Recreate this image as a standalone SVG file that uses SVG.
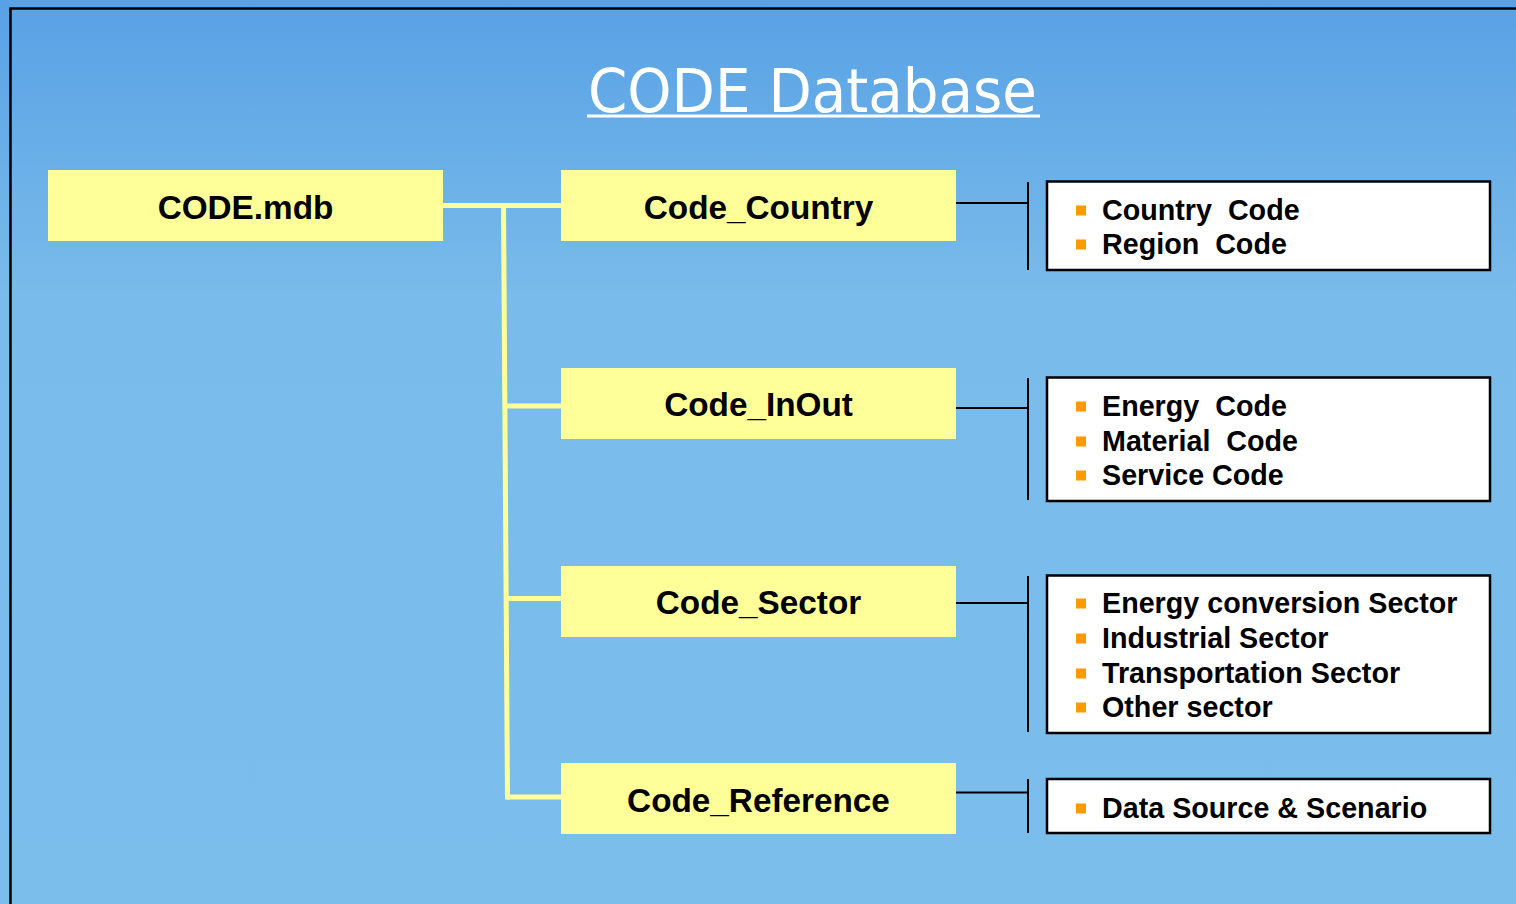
<svg xmlns="http://www.w3.org/2000/svg" width="1516" height="904" viewBox="0 0 1516 904">
<defs>
<linearGradient id="bg" gradientUnits="userSpaceOnUse" x1="0" y1="0" x2="0" y2="904">
<stop offset="0" stop-color="#58a1e5"/>
<stop offset="0.33" stop-color="#79bbea"/>
<stop offset="1" stop-color="#7bbdeb"/>
</linearGradient>
<style>
.yb{fill:#ffff99;}
.yl{stroke:#ffff99;stroke-width:5;fill:none;}
.bl{stroke:#000;stroke-width:2;fill:none;}
.wb{fill:#fff;stroke:#000;stroke-width:2.5;}
.lbl{font-family:"Liberation Sans",Arial,sans-serif;font-weight:bold;font-size:33.3px;fill:#000;text-anchor:middle;}
.it{font-family:"Liberation Sans",Arial,sans-serif;font-weight:bold;font-size:28.7px;fill:#000;}
.bu{fill:#ff9900;}
</style>
</defs>
<rect x="0" y="0" width="1516" height="904" fill="url(#bg)"/>
<rect x="10.5" y="8.5" width="1530" height="1000" fill="none" stroke="#000" stroke-width="2.5"/>
<g id="title">
<text x="588" y="112" font-family="DejaVu Sans,Verdana,sans-serif" font-size="60" fill="#fff" textLength="449" lengthAdjust="spacingAndGlyphs">CODE Database</text>
<line x1="587" y1="116" x2="1040" y2="116" stroke="#fff" stroke-width="3"/>
</g>
<g id="connectors">
<line class="yl" x1="443" y1="205.5" x2="561" y2="205.5"/>
<line class="yl" x1="503.5" y1="203" x2="507.5" y2="799.5"/>
<line class="yl" x1="505" y1="406" x2="561" y2="406"/>
<line class="yl" x1="506" y1="598.5" x2="561" y2="598.5"/>
<line class="yl" x1="507" y1="797" x2="561" y2="797"/>
<line class="bl" x1="956" y1="203" x2="1028" y2="203"/>
<line class="bl" x1="1028" y1="182" x2="1028" y2="270"/>
<line class="bl" x1="956" y1="408" x2="1028" y2="408"/>
<line class="bl" x1="1028" y1="378" x2="1028" y2="500"/>
<line class="bl" x1="956" y1="603" x2="1028" y2="603"/>
<line class="bl" x1="1028" y1="576" x2="1028" y2="732"/>
<line class="bl" x1="956" y1="792.5" x2="1028" y2="792.5"/>
<line class="bl" x1="1028" y1="779" x2="1028" y2="833"/>
</g>
<g id="code-mdb">
<rect class="yb" x="48" y="170" width="395" height="71"/>
<text class="lbl" x="245.5" y="219">CODE.mdb</text>
</g>
<g id="code-country">
<rect class="yb" x="561" y="170" width="395" height="71"/>
<text class="lbl" x="758.5" y="219">Code_Country</text>
</g>
<g id="code-inout">
<rect class="yb" x="561" y="368" width="395" height="71"/>
<text class="lbl" x="758.5" y="416">Code_InOut</text>
</g>
<g id="code-sector">
<rect class="yb" x="561" y="566" width="395" height="71"/>
<text class="lbl" x="758.5" y="614">Code_Sector</text>
</g>
<g id="code-reference">
<rect class="yb" x="561" y="763" width="395" height="71"/>
<text class="lbl" x="758.5" y="812">Code_Reference</text>
</g>
<g id="list-country">
<rect class="wb" x="1047" y="181.5" width="443" height="88.5"/>
<rect class="bu" x="1076" y="205.5" width="10" height="10"/>
<text class="it" x="1102" y="220" xml:space="preserve">Country  Code</text>
<rect class="bu" x="1076" y="239.5" width="10" height="10"/>
<text class="it" x="1102" y="254" xml:space="preserve">Region  Code</text>
</g>
<g id="list-inout">
<rect class="wb" x="1047" y="377.5" width="443" height="123.5"/>
<rect class="bu" x="1076" y="401.5" width="10" height="10"/>
<text class="it" x="1102" y="416" xml:space="preserve">Energy  Code</text>
<rect class="bu" x="1076" y="436.5" width="10" height="10"/>
<text class="it" x="1102" y="451" xml:space="preserve">Material  Code</text>
<rect class="bu" x="1076" y="470.5" width="10" height="10"/>
<text class="it" x="1102" y="485">Service Code</text>
</g>
<g id="list-sector">
<rect class="wb" x="1047" y="575.5" width="443" height="157.5"/>
<rect class="bu" x="1076" y="598.5" width="10" height="10"/>
<text class="it" x="1102" y="613">Energy conversion Sector</text>
<rect class="bu" x="1076" y="633.5" width="10" height="10"/>
<text class="it" x="1102" y="648">Industrial Sector</text>
<rect class="bu" x="1076" y="668.5" width="10" height="10"/>
<text class="it" x="1102" y="683">Transportation Sector</text>
<rect class="bu" x="1076" y="702.5" width="10" height="10"/>
<text class="it" x="1102" y="717">Other sector</text>
</g>
<g id="list-reference">
<rect class="wb" x="1047" y="779" width="443" height="54"/>
<rect class="bu" x="1076" y="803.5" width="10" height="10"/>
<text class="it" x="1102" y="818">Data Source &amp; Scenario</text>
</g>
</svg>
